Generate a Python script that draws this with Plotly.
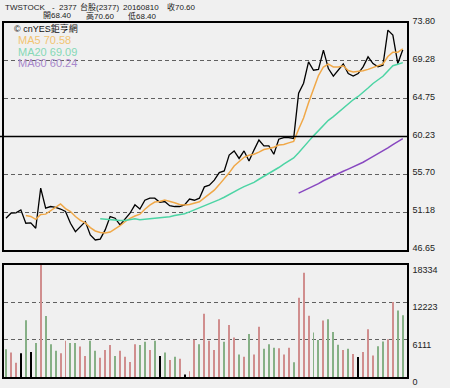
import plotly.graph_objects as go
import pandas as pd

# ---------------- data ----------------
days = list(range(81))
close = [50.45, 51.05, 51.10, 51.45, 49.85, 49.90, 49.25, 54.05, 51.65, 51.85,
         51.75, 51.55, 51.25, 49.85, 48.85, 49.45, 50.05, 48.45, 47.85, 47.95,
         49.05, 50.65, 50.45, 49.65, 50.35, 51.05, 52.05, 51.55, 52.60, 52.85,
         52.85, 52.35, 52.45, 51.95, 51.85, 51.85, 52.05, 52.75, 52.60, 52.85,
         54.20, 54.40, 55.00, 55.90, 56.10, 58.00, 58.50, 57.60, 58.50, 57.30,
         58.60, 59.80, 59.10, 59.10, 58.10, 59.90, 60.10, 60.10, 60.00, 65.40,
         66.60, 69.15, 68.15, 68.25, 70.55, 68.35, 67.45, 68.15, 68.90, 67.75,
         67.45, 67.75, 68.55, 69.75, 68.95, 68.55, 68.75, 72.95, 72.35, 68.95,
         70.60]
volume = [4550, 4000, 2330, 3880, 9270, 4110, 5550, 18334, 9990, 5380,
          4280, 3880, 5940, 5550, 5550, 5000, 3440, 5940, 4280, 3160,
          4440, 5220, 3440, 4280, 3330, 2440, 5380, 5220, 5770, 4440,
          5940, 3440, 4000, 2780, 3330, 3000, 390, 940, 6110, 5380,
          10370, 5940, 4440, 9440, 5770, 8520, 6470, 3690, 3330, 7020,
          3690, 8220, 4630, 5350, 4800, 4720, 3690, 4800, 2410, 12960,
          17070, 10040, 7270, 6050, 9240, 9440, 7350, 5270, 4440, 4630,
          3770, 3270, 4080, 7820, 3520, 5050, 5820, 6190, 12260, 10900,
          10100]
# 1 = up (red), -1 = down (green), 0 = unchanged (black)
vol_dir = [-1, 1, 1, 0, -1, 0, -1, 1, -1, -1,
           -1, 1, 1, -1, -1, 1, 1, -1, -1, 1,
           1, 1, -1, 1, 1, 1, 1, -1, -1, 1,
           -1, 0, -1, 1, -1, 1, 0, 1, 1, -1,
           1, 1, 1, 1, -1, 1, 1, -1, 1, -1,
           1, 1, -1, -1, -1, 1, 1, 1, -1, 1,
           1, 1, -1, -1, 1, -1, -1, -1, 1, -1,
           1, 0, 1, 1, 1, -1, -1, 1, 1, -1,
           -1]

price_ticks = [46.65, 51.18, 55.70, 60.23, 64.75, 69.28, 73.80]
price_tick_text = ["46.65", "51.18", "55.70", "60.23", "64.75", "69.28", "73.80"]
vol_ticks = [0, 6111, 12223, 18334]
vol_tick_text = ["0", "6111", "12223", "18334"]

ma_periods = [5, 20, 60]
ma_last = ["70.58", "69.09", "60.24"]

stock_name = "TWSTOCK"
stock_code = "2377"
market_label = "台股(2377)"
date_label = "20160810"
close_label = "收70.60"
open_label = "開68.40"
high_label = "高70.60"
low_label = "低68.40"
source_label = "© cnYES鉅亨網"

# ---------------- styling ----------------
W, H = 450, 388
BG = "#f0f0f0"
FONT = "Liberation Sans, Arial, Noto Sans CJK TC, sans-serif"
ma_colors = ["#f0a848", "#4cd4a4", "#8848c0"]
ma_text_colors = ["#f2c472", "#86d8b6", "#a888cc"]
dir_colors = {1: "#d08e8e", -1: "#86b086", 0: "#000000"}

x_left, x_right = 4, 407
p_top, p_bot = 23, 250
v_top, v_bot = 265, 377

def px_x(p):
    return p / W

def px_y(p):
    return 1 - p / H

fig = go.Figure()

s = pd.Series(close)
fig.add_trace(go.Scatter(x=days, y=close, mode="lines",
                         line=dict(color="#000000", width=1.3),
                         xaxis="x", yaxis="y", hoverinfo="skip"))
for period, col in zip(ma_periods, ma_colors):
    ma = s.rolling(period).mean()
    fig.add_trace(go.Scatter(x=days, y=ma, mode="lines",
                             line=dict(color=col, width=1.5),
                             xaxis="x", yaxis="y", hoverinfo="skip"))

fig.add_trace(go.Bar(x=days, y=volume, width=0.2,
                     marker=dict(color=[dir_colors[d] for d in vol_dir], line=dict(width=0)),
                     xaxis="x2", yaxis="y2", hoverinfo="skip"))

axis_common = dict(showline=True, mirror=True, linecolor="#000000", linewidth=1.5,
                   zeroline=False, fixedrange=True)
xr = [-0.4, 80.85]

fig.update_layout(
    width=W, height=H, margin=dict(l=0, r=0, t=0, b=0, pad=0), autosize=False,
    paper_bgcolor=BG, plot_bgcolor=BG, showlegend=False,
    font=dict(family=FONT, size=9, color="#222222"),
    xaxis=dict(domain=[px_x(x_left), px_x(x_right)], range=xr, anchor="y",
               showticklabels=False, showgrid=False, ticks="", automargin=False,
               **axis_common),
    yaxis=dict(domain=[px_y(p_bot), px_y(p_top)], range=[price_ticks[0], price_ticks[-1]],
               anchor="x", side="right", tickmode="array", tickvals=price_ticks,
               ticktext=price_tick_text, ticks="", showgrid=True, automargin=False,
               gridcolor="#606060", gridwidth=1.4, griddash="4px,3px",
               ticklabelshift=-2, ticklabelstandoff=2,
               tickfont=dict(size=9, color="#222222"), **axis_common),
    xaxis2=dict(domain=[px_x(x_left), px_x(x_right)], range=xr, anchor="y2",
                showticklabels=False, showgrid=False, ticks="", automargin=False,
                **axis_common),
    yaxis2=dict(domain=[px_y(v_bot), px_y(v_top)], range=[vol_ticks[0], vol_ticks[-1]],
                anchor="x2", side="right", tickmode="array", tickvals=vol_ticks,
                ticktext=vol_tick_text, ticks="", showgrid=True, automargin=False,
                gridcolor="#606060", gridwidth=1.4, griddash="4px,3px",
                ticklabelshift=5, ticklabelstandoff=2,
                tickfont=dict(size=9, color="#222222"), **axis_common),
)

# reference (solid) line at middle price tick
fig.add_shape(type="line", xref="paper", yref="y", x0=0, x1=px_x(x_right),
              y0=price_ticks[3], y1=price_ticks[3],
              line=dict(color="#000000", width=1.5), layer="above")

def note(text, x, y, size=8, color="#222222"):
    fig.add_annotation(text=text, xref="paper", yref="paper", x=px_x(x), y=px_y(y),
                       xanchor="left", yanchor="middle", showarrow=False,
                       font=dict(family=FONT, size=size, color=color))

# header lines
note(stock_name, 3, 7)
note("-", 50, 7)
note(stock_code, 57, 7)
note(market_label, 78, 7)
note(date_label, 121, 7)
note(close_label, 165, 7)
note(open_label, 41, 16)
note(high_label, 84, 16)
note(low_label, 126, 16)

# in-plot legend
note(source_label, 12, 29, size=9, color="#111111")
for i, (period, val, col) in enumerate(zip(ma_periods, ma_last, ma_text_colors)):
    note(f"MA{period} {val}", 16, 40.5 + i * 11.5, size=11, color=col)

fig.write_html("out.html", config={"responsive": False, "displayModeBar": False},
               post_script="document.body.style.margin='0';document.body.style.overflow='hidden';")
